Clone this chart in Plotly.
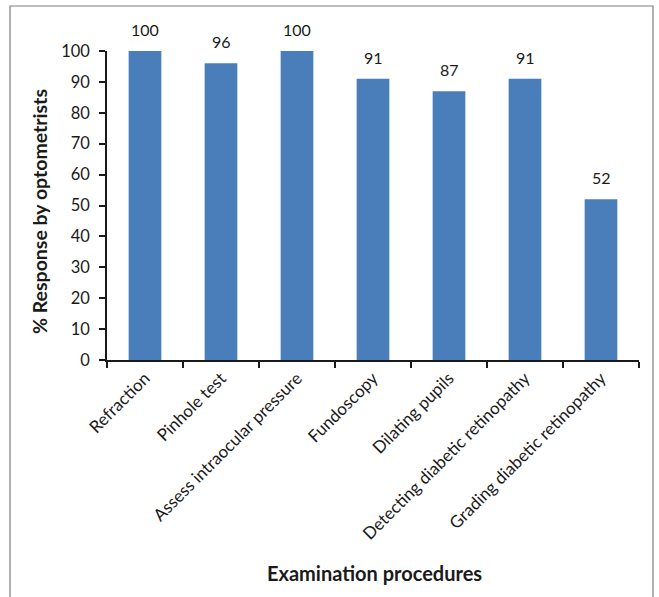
import plotly.graph_objects as go

procedures = [
    "Refraction",
    "Pinhole test",
    "Assess intraocular pressure",
    "Fundoscopy",
    "Dilating pupils",
    "Detecting diabetic retinopathy",
    "Grading diabetic retinopathy",
]
response_pct = [100, 96, 100, 91, 87, 91, 52]

FONT = "Lato"
TEXT = "#1a1a1a"

fig = go.Figure(
    go.Bar(
        x=procedures,
        y=response_pct,
        marker=dict(color="#4a7ebb", line=dict(width=0)),
        width=0.43,
        cliponaxis=False,
    )
)

# value labels sitting above each bar
value_labels = [
    dict(
        x=cat, y=val, xref="x", yref="y",
        text=str(val),
        showarrow=False,
        yanchor="bottom",
        yshift=10,
        font=dict(family=FONT, size=16, color=TEXT),
    )
    for cat, val in zip(procedures, response_pct)
]

axis_titles = [
    dict(
        text="<b>Examination procedures</b>",
        xref="paper", yref="paper",
        x=(374 - 107) / 532, y=(360 - 573) / 309,
        xanchor="center", yanchor="middle",
        showarrow=False,
        font=dict(family=FONT, size=20, color=TEXT),
    ),
    dict(
        text="<b>% Response by optometrists</b>",
        xref="paper", yref="paper",
        x=(39 - 107) / 532, y=(360 - 212) / 309,
        xanchor="center", yanchor="middle",
        textangle=-90,
        showarrow=False,
        font=dict(family=FONT, size=19.5, color=TEXT),
    ),
]

fig.update_layout(
    width=659,
    height=597,
    margin=dict(l=107, r=20, t=51, b=237),
    paper_bgcolor="white",
    plot_bgcolor="white",
    showlegend=False,
    font=dict(family=FONT, size=16, color=TEXT),
    xaxis=dict(
        type="category",
        showline=True,
        linecolor="#1a1a1a",
        linewidth=1.5,
        ticks="outside",
        tickson="boundaries",
        ticklen=6,
        tickwidth=1.5,
        tickcolor="#1a1a1a",
        tickangle=-45,
        tickfont=dict(family=FONT, size=17, color=TEXT),
        showgrid=False,
        automargin=False,
    ),
    yaxis=dict(
        range=[0, 100],
        dtick=10,
        showline=True,
        linecolor="#1a1a1a",
        linewidth=1.5,
        ticks="outside",
        ticklen=6,
        tickwidth=1.5,
        tickcolor="#1a1a1a",
        ticklabelstandoff=6,
        tickfont=dict(family=FONT, size=16.5, color=TEXT),
        showgrid=False,
        zeroline=False,
        automargin=False,
    ),
    annotations=value_labels + axis_titles,
    shapes=[
        dict(
            type="rect",
            xref="paper", yref="paper",
            x0=(10 - 107) / 532, x1=(653 - 107) / 532,
            y0=(360 - 620) / 309, y1=(360 - 6) / 309,
            line=dict(color="#7f7f7f", width=1.2),
            fillcolor="rgba(0,0,0,0)",
            layer="below",
        )
    ],
)

fig.write_html("out.html")
